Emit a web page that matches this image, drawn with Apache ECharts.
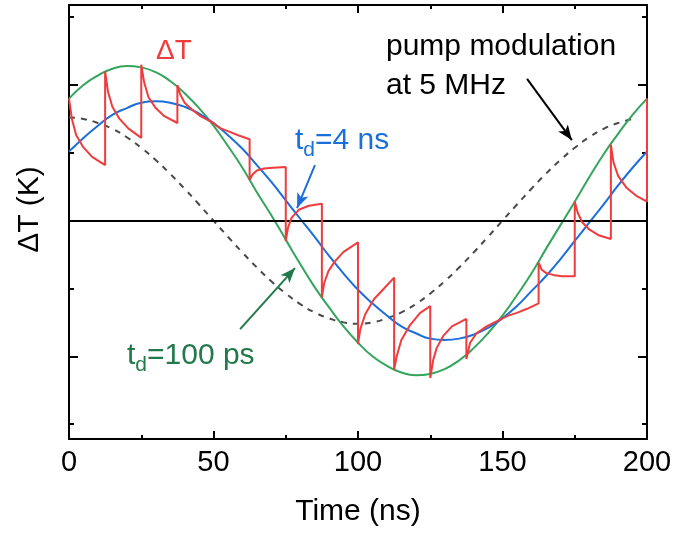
<!DOCTYPE html>
<html><head><meta charset="utf-8">
<script src="https://cdn.jsdelivr.net/npm/echarts@6/dist/echarts.min.js"></script>
<style>html,body{margin:0;padding:0;background:#fff}#c{width:675px;height:533px}</style>
</head><body><div id="c"></div>
<script>
// ---- data ----
const xTicks = [0, 50, 100, 150, 200];
const yMajorTicks = [-1, 0, 1];
const yMinorTicks = [-1.5, -0.5, 0.5, 1.5];
const yRange = [-1.61, 1.59];

const tSmooth = [0,5,10,15,20,25,30,35,40,45,50,55,60,65,70,75,80,85,90,95,100,
  105,110,115,120,125,130,135,140,145,150,155,160,165,170,175,180,185,190,195,200];
const green100ps = [0.90,1.00,1.07,1.12,1.14,1.13,1.095,1.03,0.94,0.83,0.70,0.55,0.39,0.21,0.04,-0.14,-0.32,-0.49,-0.64,-0.78,-0.90,
  -1.00,-1.07,-1.12,-1.14,-1.13,-1.095,-1.03,-0.94,-0.83,-0.70,-0.55,-0.39,-0.21,-0.035,0.14,0.32,0.49,0.64,0.78,0.90];
const blue4ns = [0.51,0.61,0.70,0.78,0.83,0.87,0.88,0.87,0.84,0.79,0.72,0.63,0.53,0.41,0.285,0.15,0.014,-0.12,-0.26,-0.39,-0.51,
  -0.61,-0.70,-0.78,-0.83,-0.87,-0.88,-0.87,-0.84,-0.79,-0.72,-0.63,-0.52,-0.41,-0.285,-0.15,-0.014,0.12,0.26,0.39,0.51];

const pumpT = [0,5,10,15,20,25,30,35,40,45,50,55,60,65,70,75,80,85,90,95,100,
  105,110,115,120,125,130,135,140,145,150,155,160,165,170,175,180,185,190,196];
const pumpV = [0.76,0.75,0.72,0.677,0.615,0.537,0.447,0.345,0.235,0.119,0,-0.119,-0.235,-0.345,-0.447,-0.537,-0.615,-0.677,-0.72,-0.75,-0.76,
  -0.75,-0.72,-0.677,-0.615,-0.537,-0.447,-0.345,-0.235,-0.119,0,0.119,0.235,0.345,0.447,0.537,0.615,0.677,0.72,0.755];

const redT = [0,1,2.5,5,8,12.5,
  12.5,13.5,15,17.5,20.5,25,
  25,26,27.5,30,33,37.5,
  37.5,38.5,40,42.5,45.5,50,
  50,51,52.5,55,58.5,62.5,
  62.5,63.5,65,67.5,70.5,75,
  75,75.8,77,79.5,83,87.5,
  87.5,88.3,89.8,92,95,100,
  100,100.8,102.5,105.5,109,112.5,
  112.5,113.4,115,118,121.5,125,
  125,126,127.2,129.5,132.5,137.5,
  137.5,138.8,141,144.5,150,
  152,155,158.5,162.5,
  162.5,163.5,165,167.5,170.5,175,
  175,176,177.5,180,183.5,187.5,
  187.5,188.4,190,193,196.5,200,
  200];
const redV = [0.90,0.75,0.63,0.54,0.47,0.41,
  1.10,0.95,0.84,0.75,0.68,0.61,
  1.15,1.02,0.91,0.83,0.77,0.72,
  1.00,0.93,0.87,0.82,0.77,0.72,
  0.71,0.70,0.68,0.66,0.63,0.60,
  0.30,0.34,0.37,0.385,0.39,0.395,
  -0.15,-0.05,0.02,0.08,0.11,0.125,
  -0.565,-0.46,-0.37,-0.30,-0.23,-0.16,
  -0.91,-0.80,-0.69,-0.58,-0.50,-0.42,
  -1.10,-1.00,-0.88,-0.77,-0.68,-0.63,
  -1.16,-1.03,-0.94,-0.85,-0.78,-0.725,
  -1.02,-0.90,-0.83,-0.78,-0.72,
  -0.70,-0.68,-0.65,-0.61,
  -0.31,-0.36,-0.385,-0.40,-0.41,-0.41,
  0.14,0.06,-0.01,-0.065,-0.11,-0.135,
  0.56,0.43,0.33,0.24,0.18,0.14,
  0.90];

// annotation arrows [from, to] in data coordinates
const arrowPump = [[158.5, 1.045], [174.0, 0.594]];
const arrow4ns = [[85.1, 0.41], [78.9, 0.093]];
const arrow100ps = [[59.2, -0.80], [78.2, -0.35]];

// ---- styles ----
const FONT = 'Arial, "Liberation Sans", Helvetica, sans-serif';
const RED = '#f03c3c', BLUE = '#1b6fdb', GREEN = '#34a55c', DGREEN = '#22794a', DASH = '#4a4a4a';

const zip = (a, b) => a.map((v, i) => [v, b[i]]);

function xAxisDef(pos, withLabel) {
  return {
    type: 'value', position: pos, min: xTicks[0], max: xTicks[xTicks.length - 1],
    interval: xTicks[1] - xTicks[0],
    axisLine: { show: true, onZero: false, lineStyle: { color: '#000', width: 2 } },
    axisTick: { show: true, inside: true, length: 8, lineStyle: { color: '#000', width: 2 } },
    minorTick: { show: true, splitNumber: 2, length: 4, lineStyle: { color: '#000', width: 2 } },
    splitLine: { show: false }, minorSplitLine: { show: false },
    axisLabel: withLabel ? { show: true, fontSize: 29, color: '#000', fontFamily: FONT, margin: 9 } : { show: false },
    name: withLabel ? 'Time (ns)' : '',
    nameLocation: 'middle', nameGap: 58,
    nameTextStyle: { fontSize: 30, color: '#000', fontFamily: FONT }
  };
}
function yAxisDef(pos, ticks, len, showLine) {
  return {
    type: 'value', position: pos, min: yRange[0], max: yRange[1],
    axisLine: { show: showLine, onZero: false, lineStyle: { color: '#000', width: 2 } },
    axisTick: { show: true, inside: true, length: len, customValues: ticks, lineStyle: { color: '#000', width: 2 } },
    axisLabel: { show: false }, splitLine: { show: false }
  };
}

function subText(x, y, main, sub, rest, color) {
  return [
    { type: 'text', x: x, y: y, style: { text: main, fill: color, font: '30px ' + FONT, verticalAlign: 'middle', align: 'left' } },
    { type: 'text', x: x + 8.3, y: y + 8.8, style: { text: sub, fill: color, font: '21px ' + FONT, verticalAlign: 'middle', align: 'left' } },
    { type: 'text', x: x + 20, y: y, style: { text: rest, fill: color, font: '30px ' + FONT, verticalAlign: 'middle', align: 'left' } }
  ];
}

function arrowItem(a, color) {
  return [{ coord: a[0], symbol: 'none', lineStyle: { color: color, width: 2, type: 'solid' } },
          { coord: a[1], symbol: 'arrow', symbolSize: [9, 15] }];
}

const chart = echarts.init(document.getElementById('c'), null, { renderer: 'canvas' });
const option = {
  animation: false,
  backgroundColor: '#fff',
  grid: { left: 69, right: 28, top: 5, bottom: 94, outerBoundsMode: 'none', containLabel: false },
  xAxis: [xAxisDef('bottom', true), xAxisDef('top', false)],
  yAxis: [
    yAxisDef('left', yMajorTicks, 9, true),
    yAxisDef('left', yMinorTicks, 5, false),
    yAxisDef('right', yMajorTicks, 9, true),
    yAxisDef('right', yMinorTicks, 5, false)
  ],
  series: [
    {
      name: 'pump', type: 'line', data: zip(pumpT, pumpV), smooth: true, symbol: 'none',
      lineStyle: { color: DASH, width: 2, type: [6, 6] }, z: 2, silent: true,
      markLine: {
        silent: true, symbol: 'none', label: { show: false }, animation: false,
        lineStyle: { color: '#000', width: 2, type: 'solid' },
        data: [{ yAxis: 0 }]
      }
    },
    {
      name: 'td100ps', type: 'line', data: zip(tSmooth, green100ps), smooth: true, symbol: 'none',
      lineStyle: { color: GREEN, width: 2 }, z: 3, silent: true
    },
    {
      name: 'td4ns', type: 'line', data: zip(tSmooth, blue4ns), smooth: true, symbol: 'none',
      lineStyle: { color: BLUE, width: 2 }, z: 4, silent: true
    },
    {
      name: 'dT', type: 'line', data: zip(redT, redV), smooth: false, symbol: 'none',
      lineStyle: { color: RED, width: 2 }, z: 5, silent: true
    },
    {
      name: 'arrows', type: 'line', data: [], symbol: 'none', silent: true, z: 6,
      markLine: {
        silent: true, animation: false, label: { show: false },
        symbol: ['none', 'arrow'], symbolSize: [9, 15],
        data: [arrowItem(arrowPump, '#000'), arrowItem(arrow4ns, BLUE), arrowItem(arrow100ps, DGREEN)]
      }
    }
  ],
  graphic: [
    { type: 'text', x: 30, y: 209.5, rotation: Math.PI / 2,
      style: { text: 'ΔT (K)', fill: '#000', font: '30px ' + FONT, align: 'center', verticalAlign: 'middle' } },
    { type: 'text', x: 156, y: 51.5,
      style: { text: 'ΔT', fill: RED, font: '28px ' + FONT, align: 'left', verticalAlign: 'middle' } },
    { type: 'text', x: 386, y: 47,
      style: { text: 'pump modulation', fill: '#000', font: '30px ' + FONT, align: 'left', verticalAlign: 'middle' } },
    { type: 'text', x: 386, y: 85.5,
      style: { text: 'at 5 MHz', fill: '#000', font: '30px ' + FONT, align: 'left', verticalAlign: 'middle' } }
  ].concat(subText(295, 141, 't', 'd', '=4 ns', BLUE))
   .concat(subText(127, 356, 't', 'd', '=100 ps', DGREEN))
};
chart.setOption(option);
</script>
</body></html>
